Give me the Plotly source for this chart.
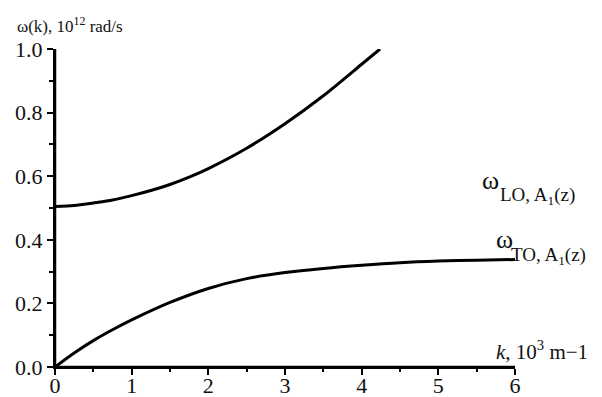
import plotly.graph_objects as go

# Wave vector k (10^3 m^-1) and branch frequencies (10^12 rad/s)
k_to = [0.0, 0.25, 0.5, 0.75, 1.0, 1.5, 2.0, 2.5, 3.0, 3.5, 4.0, 4.5, 5.0, 5.5, 6.0]
w_to = [0.0, 0.044, 0.083, 0.117, 0.148, 0.203, 0.247, 0.278, 0.297, 0.310, 0.320, 0.328, 0.333, 0.336, 0.338]

k_lo = [0.0, 0.25, 0.5, 0.75, 1.0, 1.25, 1.5, 1.75, 2.0, 2.5, 3.0, 3.5, 4.0, 4.24]
w_lo = [0.505, 0.508, 0.516, 0.525, 0.539, 0.555, 0.574, 0.597, 0.624, 0.688, 0.765, 0.853, 0.952, 1.0]

x_range = [0, 6]
y_range = [0.0, 1.0]
x_ticks = [0, 1, 2, 3, 4, 5, 6]
y_ticks = [0.0, 0.2, 0.4, 0.6, 0.8, 1.0]
y_tick_text = ["0.0", "0.2", "0.4", "0.6", "0.8", "1.0"]

SERIF = "Liberation Serif, Times New Roman, serif"
INK = "#111111"

fig = go.Figure()

# axis spines along the left and bottom of the plot area
spine = dict(mode="lines", line=dict(color="black", width=2.5),
             showlegend=False, cliponaxis=False, hoverinfo="skip")
fig.add_trace(go.Scatter(x=[x_range[0], x_range[0]], y=y_range, **spine))
fig.add_trace(go.Scatter(x=x_range, y=[y_range[0], y_range[0]], **spine))

line_style = dict(color="black", width=3, shape="spline", smoothing=0.8)
fig.add_trace(go.Scatter(x=k_lo, y=w_lo, mode="lines", line=line_style,
                         showlegend=False, cliponaxis=False))
fig.add_trace(go.Scatter(x=k_to, y=w_to, mode="lines", line=line_style,
                         showlegend=False, cliponaxis=False))

axis_common = dict(
    showline=True, linecolor="black", linewidth=2, layer="above traces",
    ticks="outside", ticklen=6, tickwidth=2, tickcolor="black",
    showgrid=False, zeroline=False, mirror=False, automargin=False,
    tickfont=dict(family=SERIF, size=22, color=INK),
)
fig.update_xaxes(range=x_range, tickvals=x_ticks, ticklabelstandoff=-8,
                 minor=dict(ticks="outside", ticklen=3, tickwidth=2,
                            tickcolor="black", dtick=0.5, showgrid=False),
                 **axis_common)
fig.update_yaxes(range=y_range, tickvals=y_ticks, ticktext=y_tick_text,
                 minor=dict(ticks="outside", ticklen=4, tickwidth=2,
                            tickcolor="black", dtick=0.1, showgrid=False),
                 **axis_common)


def label(text, x, y, size):
    return dict(text=text, xref="paper", yref="paper", x=x, y=y,
                xanchor="left", yanchor="middle", showarrow=False,
                font=dict(family=SERIF, size=size, color=INK))


annotations = [
    # axis titles
    label("ω(k), 10<sup>12</sup> rad/s", -0.087, 1.076, 17),
    label("<i>k</i>, 10<sup>3</sup> m−1", 0.955, 0.051, 21),
    # branch labels
    label("ω", 0.923, 0.586, 26),
    label("LO, A<sub>1</sub>(z)", 0.962, 0.538, 19),
    label("ω", 0.955, 0.401, 26),
    label("TO, A<sub>1</sub>(z)", 0.986, 0.349, 19),
]

fig.update_layout(
    width=602, height=397,
    margin=dict(l=55, r=87, t=49, b=30, autoexpand=False),
    paper_bgcolor="white", plot_bgcolor="white",
    font=dict(family=SERIF, color=INK),
    annotations=annotations,
)

fig.write_html("out.html")
